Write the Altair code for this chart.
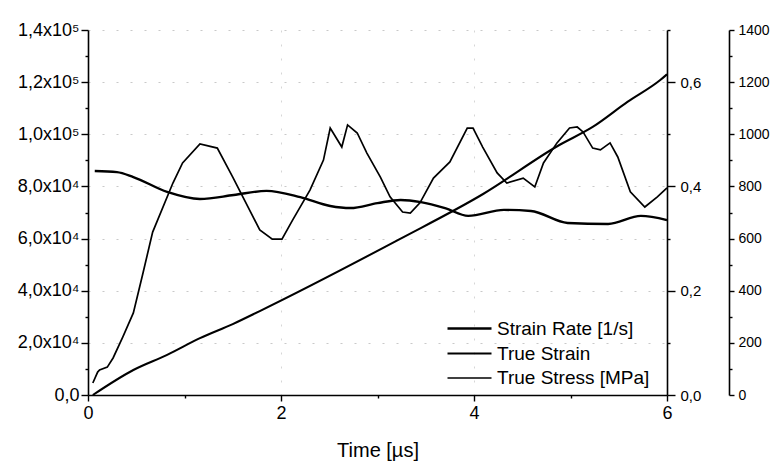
import altair as alt
import pandas as pd

FONT = "Liberation Sans"

# Strain rate [1/s] (left axis)
rate_t = [0.07, 0.3, 0.47, 0.82, 1.16, 1.51, 1.85, 2.2, 2.51, 2.72, 3.0, 3.24, 3.45, 3.7, 3.94,
          4.31, 4.59, 4.97, 5.39, 5.73, 6.0]
rate_v = [85900, 85500, 83600, 77900, 75200, 76700, 78300, 75900, 72500, 71700, 73600, 74800,
          74000, 71700, 68700, 71000, 70600, 66000, 65600, 68700, 67100]

# True strain (middle axis)
strain_t = [0.05, 0.47, 0.82, 1.16, 1.5, 1.78, 3.23, 4.09, 4.88, 5.23, 5.59, 5.93, 6.0]
strain_v = [0.0, 0.048, 0.077, 0.109, 0.136, 0.161, 0.299, 0.385, 0.479, 0.514, 0.562, 0.604, 0.615]

# True stress [MPa] (right axis)
stress_t = [0.05, 0.10, 0.12, 0.20, 0.26, 0.36, 0.47, 0.57, 0.67, 0.88, 0.98, 1.16, 1.34, 1.50,
            1.78, 1.91, 2.01, 2.12, 2.30, 2.44, 2.51, 2.63, 2.69, 2.79, 2.89, 3.03, 3.13, 3.26,
            3.34, 3.44, 3.58, 3.75, 3.93, 3.99, 4.09, 4.24, 4.34, 4.51, 4.63, 4.72, 4.86, 4.99,
            5.07, 5.13, 5.23, 5.31, 5.41, 5.49, 5.62, 5.77, 5.90, 6.00]
stress_v = [46, 88, 96, 107, 142, 222, 315, 468, 625, 813, 890, 963, 947, 836,
            633, 598, 598, 671, 786, 901, 1024, 951, 1036, 1005, 928, 836, 760, 702,
            698, 737, 832, 894, 1024, 1024, 951, 852, 813, 832, 798, 890, 967, 1024,
            1028, 1009, 947, 940, 967, 913, 779, 721, 760, 794]

series = ["Strain Rate [1/s]", "True Strain", "True Stress [MPa]"]
widths = [2.4, 1.7, 1.0]

# Axis ticks and labels
x_vals = [0, 1, 2, 3, 4, 5, 6]
x_labels = ["0", "", "2", "", "4", "", "6"]
x_major = [0, 2, 4, 6]

left_vals = [0, 10000, 20000, 30000, 40000, 50000, 60000, 70000, 80000, 90000, 100000,
             110000, 120000, 130000, 140000]
left_labels = ["0,0", "", "2,0x10⁴", "", "4,0x10⁴", "", "6,0x10⁴", "", "8,0x10⁴", "",
               "1,0x10⁵", "", "1,2x10⁵", "", "1,4x10⁵"]
left_major = [0, 20000, 40000, 60000, 80000, 100000, 120000, 140000]

strain_vals = [0.0, 0.1, 0.2, 0.3, 0.4, 0.5, 0.6, 0.7]
strain_labels = ["0,0", "", "0,2", "", "0,4", "", "0,6", ""]
strain_major = [0.0, 0.2, 0.4, 0.6]

stress_vals = [0, 100, 200, 300, 400, 500, 600, 700, 800, 900, 1000, 1100, 1200, 1300, 1400]
stress_labels = ["0", "", "200", "", "400", "", "600", "", "800", "", "1000", "", "1200", "", "1400"]
stress_major = [0, 200, 400, 600, 800, 1000, 1200, 1400]


def js(lst):
    return "[" + ",".join(repr(v) if not isinstance(v, str) else "'" + v + "'" for v in lst) + "]"


def label_expr(vals, labels):
    return f"{js(labels)}[indexof({js(vals)}, datum.value)]"


def tick_size(major, big, small):
    return {"condition": {"test": f"indexof({js(major)}, datum.value) >= 0", "value": big}, "value": small}


def make_axis(vals, labels, major, orient, size, offset=0, grid=False, tick=6, pad=3):
    kw = dict(
        orient=orient, values=vals, labelExpr=label_expr(vals, labels),
        tickSize=tick_size(major, tick, 3),
        title=None, labelFont=FONT, labelFontSize=size, labelColor="black",
        domainColor="black", domainWidth=1.6, tickColor="black", tickWidth=1.4,
        labelPadding=pad, grid=grid, offset=offset, labelFlush=False,
    )
    if grid:
        kw.update(gridColor="#bbbbbb", gridDash=[2, 12], gridWidth=1,
                  gridOpacity={"condition": {"test": f"indexof({js(major)}, datum.value) >= 0",
                                             "value": 0.8}, "value": 0})
    return alt.Axis(**kw)


df_rate = pd.DataFrame({"t": rate_t, "v": rate_v, "s": series[0]})
df_strain = pd.DataFrame({"t": strain_t, "v": strain_v, "s": series[1]})
df_stress = pd.DataFrame({"t": stress_t, "v": stress_v, "s": series[2]})

x_axis = alt.Axis(
    values=x_vals, labelExpr=label_expr(x_vals, x_labels), tickSize=tick_size(x_major, 6, 3),
    title="Time [µs]", titleFont=FONT, titleFontSize=20, titleFontWeight="normal",
    titleColor="black", titlePadding=18, labelFont=FONT, labelFontSize=18, labelColor="black",
    domainColor="black", domainWidth=1.6, tickColor="black", tickWidth=1.4, labelPadding=3,
    grid=True, gridColor="#bbbbbb", gridDash=[2, 12],
    gridOpacity={"condition": {"test": "datum.value == 2 || datum.value == 4", "value": 0.6}, "value": 0},
    labelFlush=False,
)
x_enc = alt.X("t:Q", scale=alt.Scale(domain=[0, 6], nice=False), axis=x_axis)

color = alt.Color("s:N", scale=alt.Scale(domain=series, range=["black", "black", "black"]),
                  legend=alt.Legend(
                      title=None, orient="none", legendX=369, legendY=286,
                      symbolType="M-2,0H2", symbolSize=484, symbolStrokeColor="black",
                      labelFont=FONT, labelFontSize=19, labelColor="black",
                      labelOffset=15, rowPadding=2, labelLimit=300,
                  ))
sw = alt.StrokeWidth("s:N", scale=alt.Scale(domain=series, range=widths))

l1 = alt.Chart(df_rate).mark_line(interpolate="monotone").encode(
    x=x_enc,
    y=alt.Y("v:Q", scale=alt.Scale(domain=[0, 140000], nice=False),
            axis=make_axis(left_vals, left_labels, left_major, "left", 18, grid=True, tick=7, pad=2)),
    color=color, strokeWidth=sw,
)
l2 = alt.Chart(df_strain).mark_line(interpolate="monotone").encode(
    x=x_enc,
    y=alt.Y("v:Q", scale=alt.Scale(domain=[0, 0.7], nice=False),
            axis=make_axis(strain_vals, strain_labels, strain_major, "right", 15, tick=8, pad=5)),
    color=color, strokeWidth=sw,
)
l3 = alt.Chart(df_stress).mark_line(interpolate="linear").encode(
    x=x_enc,
    y=alt.Y("v:Q", scale=alt.Scale(domain=[0, 1400], nice=False),
            axis=make_axis(stress_vals, stress_labels, stress_major, "right", 14, offset=62,
                           tick=5, pad=4)),
    color=color, strokeWidth=sw,
)

chart = alt.layer(l1, l2, l3).resolve_scale(y="independent").properties(
    width=579, height=365,
    autosize=alt.AutoSizeParams(type="none"),
    padding={"left": 80, "top": 22, "right": 104, "bottom": 66},
    background="white",
).configure_view(stroke=None)

chart.save("out.html", embed_options={"renderer": "svg", "actions": False})
